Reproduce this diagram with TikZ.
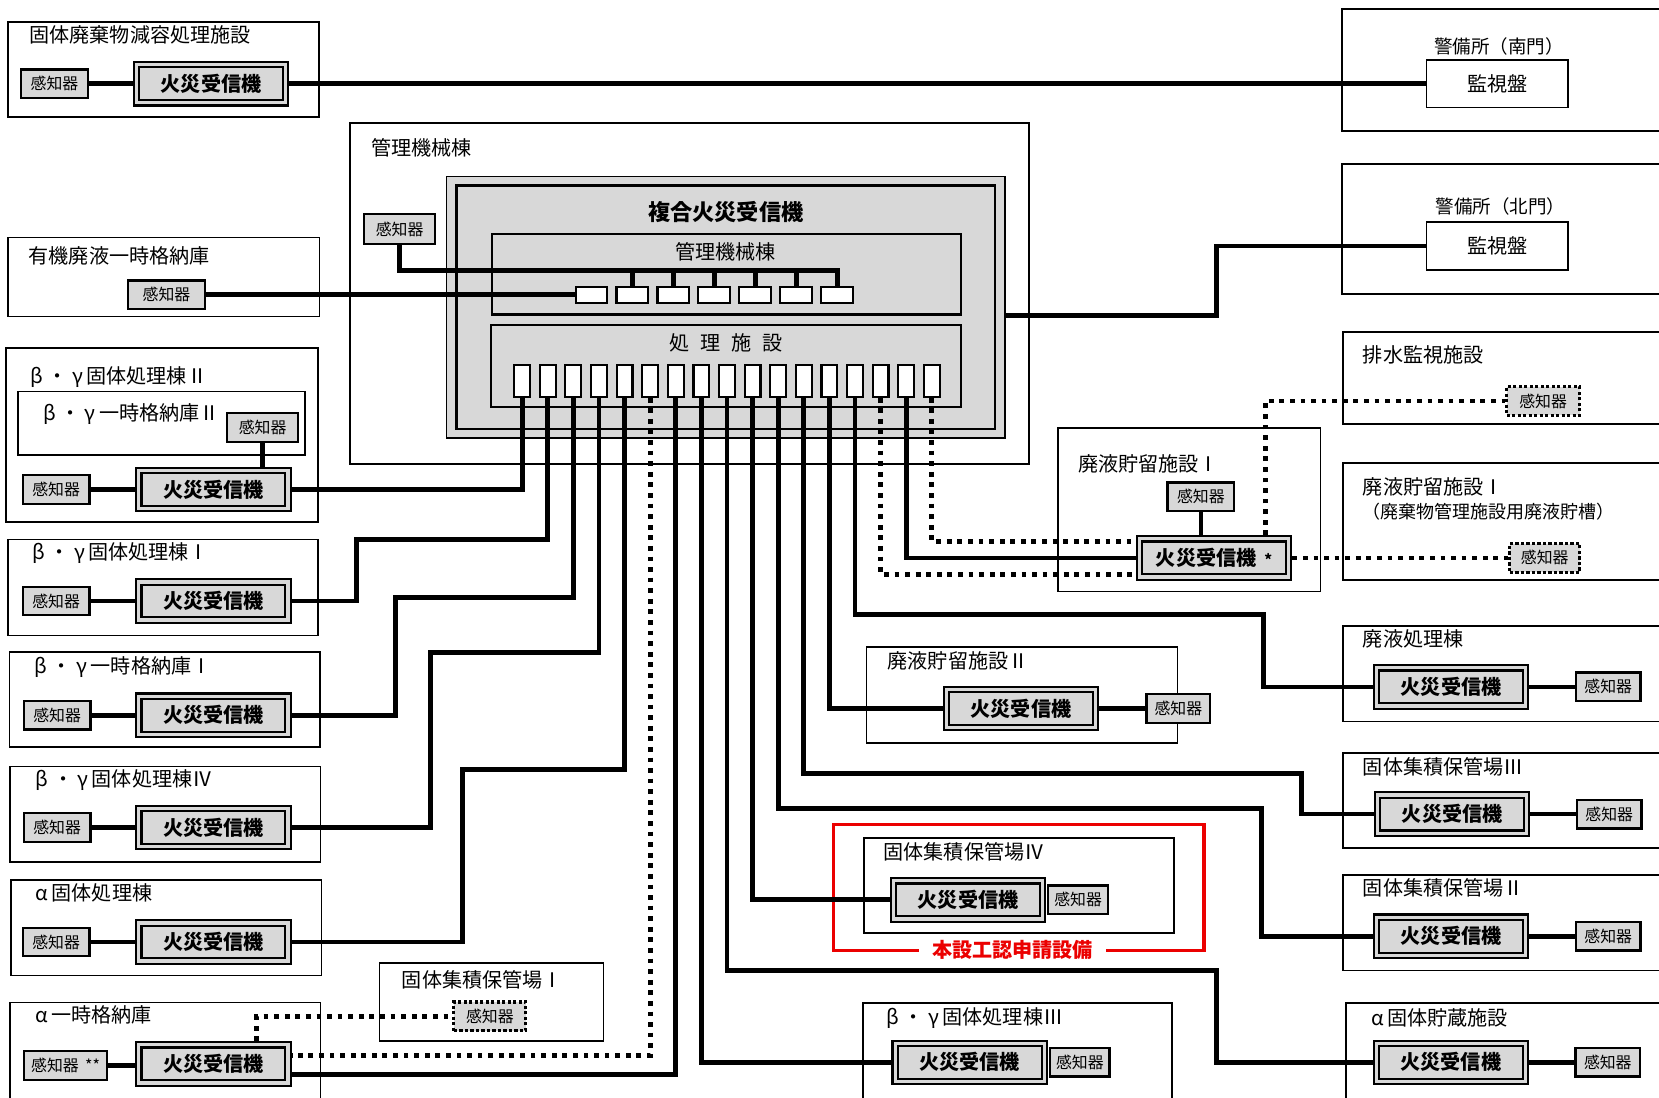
\documentclass[tikz,border=0pt]{standalone}
\usepackage{fontspec}
\setmainfont{Noto Sans CJK JP}

\definecolor{boxgray}{RGB}{216,216,216}
\definecolor{markred}{RGB}{235,0,0}

\tikzset{
  bldg/.style={line width=1.6pt},
  lbl/.style={anchor=west, inner sep=0pt, font=\fontsize{19}{19}\selectfont},
  recv/.style={draw, fill=boxgray, double=boxgray, double distance=3pt, line width=2pt,
               minimum width=141pt, minimum height=36pt, inner sep=0pt, outer sep=3.5pt,
               font=\bfseries\fontsize{19}{19}\selectfont},
  sens/.style={draw, fill=boxgray, line width=2.2pt, minimum width=63pt, minimum height=27pt,
               inner sep=0pt, font=\fontsize{15}{15}\selectfont},
  dsens/.style={sens, line width=3pt, dash pattern=on 3pt off 2.2pt},
  panel/.style={draw, fill=white, line width=1.6pt, minimum width=134pt, minimum height=45pt,
                font=\fontsize{19}{19}\selectfont},
  slot/.style={draw, fill=white, line width=2pt, inner sep=0pt},
  wire/.style={line width=4.5pt},
  dwire/.style={line width=4.5pt, dash pattern=on 4.5pt off 5.5pt},
  redframe/.style={markred, line width=3pt}
}

\begin{document}
\begin{tikzpicture}[x=1pt,y=-1pt]

            %\draw [help lines, step=50] (0,0) grid (1568,1037);
            \useasboundingbox (0,0) rectangle (1568,1037);

            % buildings
            \draw[bldg] (7.4,20.8) rectangle (301.3,110.3);
            \draw[bldg] (7.4,224.6) rectangle (302,299.2);
            \draw[bldg] (331,116.5) rectangle (972.5,438.5);
            \draw[bldg] (5.7,329) rectangle (300.5,493.6);
            \draw[bldg] (17,370) rectangle (288.5,430);
            \draw[bldg] (7.4,510) rectangle (300.5,600.7);
            \draw[bldg] (9.1,616.5) rectangle (302.6,706);
            \draw[bldg] (9.3,724.5) rectangle (303,815);
            \draw[bldg] (10.5,832) rectangle (304,922);
            \draw[bldg] (9.3,947.5) rectangle (303,1050);
            \draw[bldg] (358.6,910) rectangle (570.4,984);
            \draw[bldg] (1268.6,8.8) rectangle (1590,123.8);
            \draw[bldg] (1268.6,155) rectangle (1590,278);
            \draw[bldg] (1269,314) rectangle (1590,400.7);
            \draw[bldg] (1000,404.8) rectangle (1248,559);
            \draw[bldg] (1269,437.9) rectangle (1590,548);
            \draw[bldg] (819,611.7) rectangle (1113,702.5);
            \draw[bldg] (1269.5,591.6) rectangle (1590,682);
            \draw[bldg] (1269.5,712) rectangle (1590,801.6);
            \draw[bldg] (1269.5,827) rectangle (1590,917.3);
            \draw[bldg] (816.6,792) rectangle (1109.5,882);
            \draw[bldg] (815.6,948) rectangle (1108,1050);
            \draw[bldg] (1272,948) rectangle (1590,1050);
            \draw[redframe] (787.5,779) rectangle (1138,898);

            % compound receiver
            \path (685.8,290.5) node (fk) [draw, fill=boxgray, line width=1.2pt, minimum width=528pt, minimum height=247pt] {};
            \draw[line width=2.5pt] ([shift={(10pt,-9pt)}]fk.north west) rectangle ([shift={(-10pt,9pt)}]fk.south east);
            \path   (686.6,259.2) node (kb) [draw, fill=boxgray, line width=2pt, minimum width=444pt, minimum height=76pt] {}
                    (686.3,346) node (pb) [draw, fill=boxgray, line width=2pt, minimum width=444pt, minimum height=78pt] {}
                    (686,200) node (ft) [font=\bfseries\fontsize{21}{21}\selectfont] {複合火災受信機}
                    (686,238) node (kl) [font=\fontsize{19}{19}\selectfont] {管理機械棟}
                    (686,324.5) node (pl) [font=\fontsize{19}{19}\selectfont] {処\hspace{0.55em}理\hspace{0.55em}施\hspace{0.55em}設};

            \path   (559,278.5) node (k0) [slot, minimum width=30pt, minimum height=15pt] {}
                    (597.7,278.5) node (k1) [slot, minimum width=30pt, minimum height=15pt] {}
                    (636.4,278.5) node (k2) [slot, minimum width=30pt, minimum height=15pt] {}
                    (675.1,278.5) node (k3) [slot, minimum width=30pt, minimum height=15pt] {}
                    (713.8,278.5) node (k4) [slot, minimum width=30pt, minimum height=15pt] {}
                    (752.5,278.5) node (k5) [slot, minimum width=30pt, minimum height=15pt] {}
                    (791.2,278.5) node (k6) [slot, minimum width=30pt, minimum height=15pt] {};

            \path   (493.5,360) node (t0) [slot, minimum width=15pt, minimum height=30pt] {}
                    (517.7,360) node (t1) [slot, minimum width=15pt, minimum height=30pt] {}
                    (541.9,360) node (t2) [slot, minimum width=15pt, minimum height=30pt] {}
                    (566.1,360) node (t3) [slot, minimum width=15pt, minimum height=30pt] {}
                    (590.3,360) node (t4) [slot, minimum width=15pt, minimum height=30pt] {}
                    (614.5,360) node (t5) [slot, minimum width=15pt, minimum height=30pt] {}
                    (638.7,360) node (t6) [slot, minimum width=15pt, minimum height=30pt] {}
                    (662.9,360) node (t7) [slot, minimum width=15pt, minimum height=30pt] {}
                    (687.1,360) node (t8) [slot, minimum width=15pt, minimum height=30pt] {}
                    (711.3,360) node (t9) [slot, minimum width=15pt, minimum height=30pt] {}
                    (735.5,360) node (t10) [slot, minimum width=15pt, minimum height=30pt] {}
                    (759.7,360) node (t11) [slot, minimum width=15pt, minimum height=30pt] {}
                    (783.9,360) node (t12) [slot, minimum width=15pt, minimum height=30pt] {}
                    (808.1,360) node (t13) [slot, minimum width=15pt, minimum height=30pt] {}
                    (832.3,360) node (t14) [slot, minimum width=15pt, minimum height=30pt] {}
                    (856.5,360) node (t15) [slot, minimum width=15pt, minimum height=30pt] {}
                    (880.7,360) node (t16) [slot, minimum width=15pt, minimum height=30pt] {};

            % labels
            \path   (27.7,33) node (l1) [lbl] {固体廃棄物減容処理施設}
                    (351,140) node (l2) [lbl] {管理機械棟}
                    (27,242) node (l3) [lbl] {有機廃液一時格納庫}
                    (28.7,356) node (l4) [lbl] {β ・ γ\,固体処理棟Ⅱ}
                    (40.5,391) node (l5) [lbl] {β ・ γ\,一時格納庫Ⅱ}
                    (30.4,523) node (l6) [lbl] {β ・ γ\,固体処理棟Ⅰ}
                    (32.7,630) node (l7) [lbl] {β ・ γ\,一時格納庫Ⅰ}
                    (33.7,737) node (l8) [lbl] {β ・ γ\,固体処理棟Ⅳ}
                    (33.7,844) node (l9) [lbl] {α\,固体処理棟}
                    (33,959) node (l10) [lbl] {α\,一時格納庫}
                    (379.7,926) node (l11) [lbl] {固体集積保管場Ⅰ}
                    (1416.7,44) node (l12) [font=\fontsize{17.5}{17.5}\selectfont, inner sep=0pt] {警備所（南門）}
                    (1418,195) node (l13) [font=\fontsize{17.5}{17.5}\selectfont, inner sep=0pt] {警備所（北門）}
                    (1288,335.5) node (l14) [lbl] {排水監視施設}
                    (1019,438.5) node (l15) [lbl] {廃液貯留施設Ⅰ}
                    (1288,460) node (l16) [lbl] {廃液貯留施設Ⅰ}
                    (1288,483.5) node (l17) [lbl, font=\fontsize{17}{17}\selectfont] {（廃棄物管理施設用廃液貯槽）}
                    (838.8,625) node (l18) [lbl] {廃液貯留施設Ⅱ}
                    (1288,604) node (l19) [lbl] {廃液処理棟}
                    (1288,724.5) node (l20) [lbl] {固体集積保管場Ⅲ}
                    (1288,839.5) node (l21) [lbl] {固体集積保管場Ⅱ}
                    (835,805) node (l22) [lbl] {固体集積保管場Ⅳ}
                    (837.8,962.3) node (l23) [lbl] {β ・ γ\,固体処理棟Ⅲ}
                    (1296,962) node (l24) [lbl] {α\,固体貯蔵施設}
                    (957,898) node (rl) [fill=white, inner xsep=12pt, inner ysep=1pt, text=markred, font=\bfseries\fontsize{19}{19}\selectfont] {本設工認申請設備};

            % receivers, sensors, panels
            \path   (199.5,79.2) node (r1) [recv] {火災受信機}
                    (201.7,462.7) node (r2) [recv] {火災受信機}
                    (201.7,568) node (r3) [recv] {火災受信機}
                    (201.7,676) node (r4) [recv] {火災受信機}
                    (201.7,782) node (r5) [recv] {火災受信機}
                    (201.7,890.3) node (r6) [recv] {火災受信機}
                    (201.7,1005.5) node (r7) [recv] {火災受信機}
                    (1147.5,527.3) node (rw) [recv] {火災受信機\hspace{0.4em}{\fontsize{14}{14}\selectfont *}}
                    (965,669.7) node (rx) [recv] {火災受信機}
                    (1371.5,649.2) node (ry) [recv] {火災受信機}
                    (1372.5,769.4) node (rz3) [recv] {火災受信機}
                    (1371.5,884.8) node (rz2) [recv] {火災受信機}
                    (915,850.5) node (rz4) [recv] {火災受信機}
                    (916.5,1004) node (rb3) [recv] {火災受信機}
                    (1371.3,1004) node (rav) [recv] {火災受信機};

            \path   (51.5,79.2) node (s1) [sens] {感知器}
                    (157.4,278.5) node (so) [sens, minimum width=73pt] {感知器}
                    (377.7,216.5) node (sk) [sens, minimum width=67pt, minimum height=28pt] {感知器}
                    (248.2,404) node (s2) [sens, minimum width=67pt] {感知器}
                    (53,462.7) node (s2b) [sens] {感知器}
                    (53,568) node (s3) [sens] {感知器}
                    (54,676) node (s4) [sens] {感知器}
                    (54,782) node (s5) [sens] {感知器}
                    (53,890.3) node (s6) [sens] {感知器}
                    (62,1007) node (s7) [sens, minimum width=78pt] {感知器\hspace{0.4em}**}
                    (463,960.5) node (sd1) [dsens, minimum width=68pt] {感知器}
                    (1135,469.4) node (sw) [sens] {感知器}
                    (1458.5,379) node (sdh) [dsens, minimum width=69pt] {感知器}
                    (1460,527.3) node (sdw) [dsens, minimum width=66pt] {感知器}
                    (1113.7,669.7) node (sx) [sens, minimum width=60pt] {感知器}
                    (1520,649.2) node (sy) [sens, minimum width=61pt] {感知器}
                    (1521,769.4) node (sz3) [sens, minimum width=61pt] {感知器}
                    (1520,884.8) node (sz2) [sens, minimum width=61pt] {感知器}
                    (1019,850.5) node (sz4) [sens, minimum width=57pt] {感知器}
                    (1020.6,1004) node (sb3) [sens, minimum width=56pt] {感知器}
                    (1519.6,1004) node (sav) [sens, minimum width=61pt] {感知器}
                    (1415.2,79.2) node (m1) [panel] {監視盤}
                    (1415.2,232.5) node (m2) [panel] {監視盤};

            % local lines
            \draw[wire] (s1.east) -- (r1.west);
            \draw[wire] (r1.east) -- (m1.west);
            \draw[wire] (so.east) -- (k0.west);
            \coordinate (kbus) at (0,256);
            \draw[wire] (sk.south) |- (kbus -| k6) -- (k6.north);
            \draw[wire] (k1.north) -- (kbus -| k1);
            \draw[wire] (k2.north) -- (kbus -| k2);
            \draw[wire] (k3.north) -- (kbus -| k3);
            \draw[wire] (k4.north) -- (kbus -| k4);
            \draw[wire] (k5.north) -- (kbus -| k5);
            \draw[wire] ([yshift=-8pt]fk.east) -| (1150,232.5) -- (m2.west);
            \draw[wire] (s2.south) -- (s2.south |- r2.north);
            \draw[wire] (s2b.east) -- (r2.west);
            \draw[wire] (s3.east) -- (r3.west);
            \draw[wire] (s4.east) -- (r4.west);
            \draw[wire] (s5.east) -- (r5.west);
            \draw[wire] (s6.east) -- (r6.west);
            \draw[wire] (s7.east) -- (s7.east -| r7.west);
            \draw[dwire] ([xshift=41pt]r7.north) |- (sd1.west);
            \draw[wire] (sw.south) -- (sw.south |- rw.north);
            \draw[dwire] ([xshift=48.5pt]rw.north) |- (sdh.west);
            \draw[dwire] (rw.east) -- (sdw.west);
            \draw[wire] (rx.east) -- (sx.west);
            \draw[wire] (ry.east) -- (sy.west);
            \draw[wire] (rz3.east) -- (sz3.west);
            \draw[wire] (rz2.east) -- (sz2.west);
            \draw[wire] (rav.east) -- (sav.west);

            % trunk lines
            \draw[wire] (t0.south) |- (r2.east);
            \draw[wire] (t1.south) |- (337,510) |- (r3.east);
            \draw[wire] (t2.south) |- (374,565) |- (r4.east);
            \draw[wire] (t3.south) |- (407,617) |- (r5.east);
            \draw[wire] (t4.south) |- (437,727) |- (r6.east);
            \draw[dwire] (t5.south) |- ([yshift=8pt]r7.east);
            \draw[wire] (t6.south) |- ([yshift=-10pt]r7.east);
            \draw[wire] (t7.south) |- (rb3.west);
            \draw[wire] (t8.south) |- (1150,917) |- (rav.west);
            \draw[wire] (t9.south) |- (rz4.west);
            \draw[wire] (t10.south) |- (1192,764) |- (rz2.west);
            \draw[wire] (t11.south) |- (1230,731) |- (rz3.west);
            \draw[wire] (t12.south) |- (rx.west);
            \draw[wire] (t13.south) |- (1194,581) |- (ry.west);
            \draw[dwire] (t14.south) |- ([yshift=-15.5pt]rw.west);
            \draw[wire] (t15.south) |- (rw.west);
            \draw[dwire] (t16.south) |- ([yshift=15.5pt]rw.west);
\end{tikzpicture}
\end{document}
